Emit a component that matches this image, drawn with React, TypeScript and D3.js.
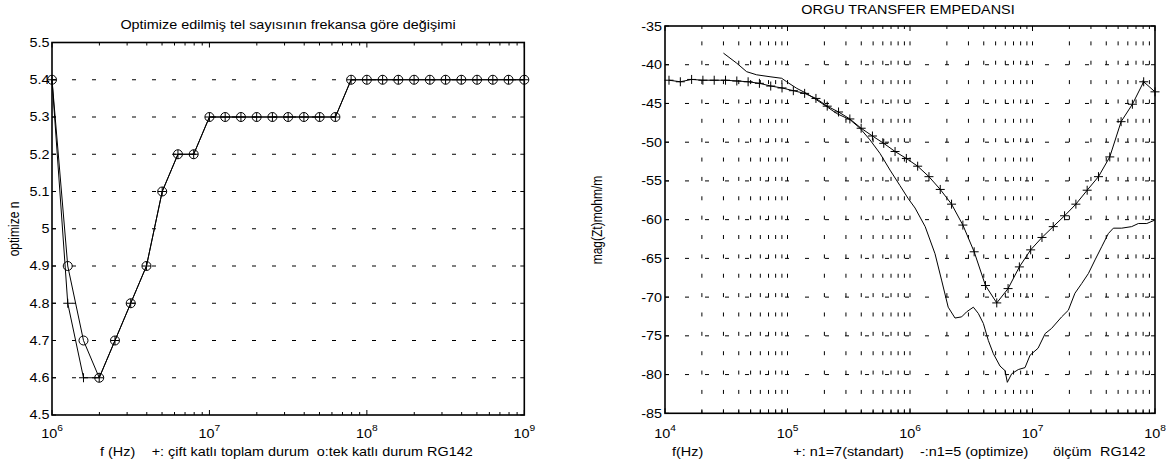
import React from "react";
import * as d3 from "d3";

// ---------- Left chart data ----------
const LEFT_FREQ = [
  1.0e6, 1.259e6, 1.585e6, 1.995e6, 2.512e6, 3.162e6, 3.981e6, 5.012e6, 6.31e6, 7.943e6,
  1.0e7, 1.259e7, 1.585e7, 1.995e7, 2.512e7, 3.162e7, 3.981e7, 5.012e7, 6.31e7, 7.943e7,
  1.0e8, 1.259e8, 1.585e8, 1.995e8, 2.512e8, 3.162e8, 3.981e8, 5.012e8, 6.31e8, 7.943e8,
  1.0e9,
];
// o: tek katlı durum
const LEFT_TEK = [
  5.4, 4.9, 4.7, 4.6, 4.7, 4.8, 4.9, 5.1, 5.2, 5.2,
  5.3, 5.3, 5.3, 5.3, 5.3, 5.3, 5.3, 5.3, 5.3,
  5.4, 5.4, 5.4, 5.4, 5.4, 5.4, 5.4, 5.4, 5.4, 5.4, 5.4, 5.4,
];
// +: çift katlı toplam durum
const LEFT_CIFT = [
  5.4, 4.8, 4.6, 4.6, 4.7, 4.8, 4.9, 5.1, 5.2, 5.2,
  5.3, 5.3, 5.3, 5.3, 5.3, 5.3, 5.3, 5.3, 5.3,
  5.4, 5.4, 5.4, 5.4, 5.4, 5.4, 5.4, 5.4, 5.4, 5.4, 5.4, 5.4,
];
const LEFT_YTICKS = [4.5, 4.6, 4.7, 4.8, 4.9, 5.0, 5.1, 5.2, 5.3, 5.4, 5.5];
const LEFT_YLABELS = ["4.5", "4.6", "4.7", "4.8", "4.9", "5", "5.1", "5.2", "5.3", "5.4", "5.5"];
const LEFT_XMAJOR = [1e6, 1e7, 1e8, 1e9];
const LEFT_XEXP = ["6", "7", "8", "9"];

// ---------- Right chart data ----------
const RIGHT_FREQ_STD = [
  1.078e4, 1.334e4, 1.649e4, 2.039e4, 2.522e4, 3.119e4, 3.857e4, 4.77e4, 5.898e4, 7.295e4,
  9.022e4, 1.116e5, 1.38e5, 1.707e5, 2.11e5, 2.61e5, 3.228e5, 3.992e5, 4.937e5, 6.105e5,
  7.55e5, 9.338e5, 1.155e6, 1.428e6, 1.766e6, 2.184e6, 2.701e6, 3.34e6, 4.13e6, 5.108e6,
  6.317e6, 7.813e6, 9.661e6, 1.195e7, 1.477e7, 1.827e7, 2.26e7, 2.795e7, 3.456e7, 4.274e7,
  5.286e7, 6.538e7, 8.084e7, 1.0e8,
];
// +: n1=7 (standart)
const RIGHT_STD = [
  -42.0, -42.2, -41.9, -42.0, -42.0, -42.0, -42.1, -42.2, -42.4, -42.75,
  -43.0, -43.35, -43.7, -44.35, -45.35, -46.1, -47.0, -48.2, -49.2, -50.15,
  -51.2, -52.1, -53.1, -54.45, -56.1, -58.0, -60.7, -64.15, -68.5, -70.75,
  -68.9, -66.1, -63.9, -62.3, -60.9, -59.5, -58.0, -56.2, -54.45, -51.9,
  -47.35, -45.1, -42.2, -43.5,
];
const RIGHT_FREQ_OPT = [
  3.0e4, 3.85e4, 4.64e4, 5.6e4, 7.2e4, 8.97e4, 9.85e4, 1.19e5, 1.43e5, 1.73e5,
  2.09e5, 2.52e5, 3.24e5, 3.91e5, 4.71e5, 5.69e5, 6.87e5, 8.28e5, 9.69e5, 1.1e6,
  1.33e6, 1.6e6, 1.81e6, 2.05e6, 2.33e6, 2.64e6, 2.9e6, 3.29e6, 3.61e6, 3.97e6,
  4.36e6, 4.79e6, 5.43e6, 5.97e6, 6.23e6, 6.76e6, 7.66e6, 8.69e6, 9.55e6, 1.11e7,
  1.27e7, 1.43e7, 1.73e7, 1.96e7, 2.22e7, 2.52e7, 2.86e7, 3.24e7, 3.67e7, 4.16e7,
  4.57e7, 5.35e7, 6.45e7, 7.31e7, 8.57e7, 1.0e8,
];
// -: n1=5 (optimize)
const RIGHT_OPT = [
  -38.5, -39.8, -40.9, -41.3, -41.55, -41.75, -42.2, -43.05, -43.7, -44.55,
  -45.4, -46.3, -47.1, -48.2, -49.7, -51.45, -53.6, -55.6, -57.3, -58.5,
  -60.9, -64.4, -67.8, -71.3, -72.7, -72.55, -71.9, -71.3, -72.1, -73.4,
  -75.6, -77.3, -78.9, -79.5, -81.0, -79.9, -79.35, -79.1, -77.5, -76.6,
  -74.7, -74.05, -72.55, -71.7, -69.5, -68.25, -66.95, -65.2, -63.5, -61.8,
  -61.1, -61.1, -60.9, -60.5, -60.5, -60.05,
];
const RIGHT_YTICKS = [-85, -80, -75, -70, -65, -60, -55, -50, -45, -40, -35];
const RIGHT_XMAJOR = [1e4, 1e5, 1e6, 1e7, 1e8];
const RIGHT_XEXP = ["4", "5", "6", "7", "8"];

const FONT = "'Liberation Sans', Arial, Helvetica, sans-serif";
const SX = 1.2;

function T(props: {
  x: number;
  y: number;
  anchor?: string;
  size?: number;
  rotate?: boolean;
  children: React.ReactNode;
}) {
  const { x, y, anchor = "start", size = 12, rotate = false, children } = props;
  const transform = rotate
    ? `translate(${x},${y}) rotate(-90) scale(1,${SX})`
    : `translate(${x},${y}) scale(${SX},1)`;
  return (
    <text
      transform={transform}
      textAnchor={anchor as any}
      fontSize={size}
      fontFamily={FONT}
      fill="#000"
      style={{ whiteSpace: "pre" }}
    >
      {children}
    </text>
  );
}

function minorTicks(lo: number, hi: number) {
  const out: { v: number; major: boolean }[] = [];
  for (let e = lo; e <= hi; e++) {
    for (let m = 1; m <= 9; m++) {
      const v = m * Math.pow(10, e);
      if (v > Math.pow(10, hi)) break;
      out.push({ v, major: m === 1 });
    }
  }
  return out;
}

function LeftChart() {
  const x0 = 52, x1 = 524.3, y0 = 42.5, y1 = 415;
  const x = d3.scaleLog().domain([1e6, 1e9]).range([x0, x1]);
  const y = d3.scaleLinear().domain([4.5, 5.5]).range([y1, y0]);
  const line = d3
    .line<number>()
    .x((_, i) => x(LEFT_FREQ[i]))
    .y((d) => y(d));
  const xt = minorTicks(6, 9);
  return (
    <g>
      {/* horizontal grid */}
      {LEFT_YTICKS.slice(1, -1).map((t) => (
        <line
          key={"g" + t}
          x1={x0}
          x2={x1}
          y1={y(t)}
          y2={y(t)}
          stroke="#000"
          strokeWidth={1}
          strokeDasharray="4 16"
        />
      ))}
      {/* ticks */}
      {xt.map((t, i) => {
        const len = t.major ? 5 : 3;
        return (
          <g key={"xt" + i}>
            <line x1={x(t.v)} x2={x(t.v)} y1={y1} y2={y1 - len} stroke="#000" strokeWidth={1} />
            <line x1={x(t.v)} x2={x(t.v)} y1={y0} y2={y0 + len} stroke="#000" strokeWidth={1} />
          </g>
        );
      })}
      {LEFT_YTICKS.map((t) => (
        <g key={"yt" + t}>
          <line x1={x0} x2={x0 + 4} y1={y(t)} y2={y(t)} stroke="#000" strokeWidth={1} />
          <line x1={x1} x2={x1 - 4} y1={y(t)} y2={y(t)} stroke="#000" strokeWidth={1} />
        </g>
      ))}
      {/* series lines */}
      <path d={line(LEFT_CIFT) || ""} fill="none" stroke="#000" strokeWidth={1} />
      <path d={line(LEFT_TEK) || ""} fill="none" stroke="#000" strokeWidth={1} />
      {/* markers */}
      {LEFT_TEK.map((v, i) => (
        <circle key={"o" + i} cx={x(LEFT_FREQ[i])} cy={y(v)} r={4.5} fill="none" stroke="#000" strokeWidth={1} />
      ))}
      {LEFT_CIFT.map((v, i) => {
        const cx = x(LEFT_FREQ[i]);
        const cy = y(v);
        return (
          <path
            key={"p" + i}
            d={`M${cx - 4.5},${cy}H${cx + 4.5}M${cx},${cy - 4.5}V${cy + 4.5}`}
            stroke="#000"
            strokeWidth={1}
          />
        );
      })}
      {/* box */}
      <rect x={x0} y={y0} width={x1 - x0} height={y1 - y0} fill="none" stroke="#000" strokeWidth={1.6} />
      {/* tick labels */}
      {LEFT_YTICKS.map((t, i) => (
        <T key={"yl" + t} x={x0 - 2.5} y={y(t) + 4.3} anchor="end">
          {LEFT_YLABELS[i]}
        </T>
      ))}
      {LEFT_XMAJOR.map((t, i) => (
        <text
          key={"xl" + t}
          transform={`translate(${x(t)},438) scale(${SX},1)`}
          textAnchor="middle"
          fontSize={12}
          fontFamily={FONT}
        >
          <tspan>10</tspan>
          <tspan dy={-7} fontSize={8.5}>
            {LEFT_XEXP[i]}
          </tspan>
        </text>
      ))}
      <T x={288} y={29} anchor="middle">
        Optimize edilmiş tel sayısının frekansa göre değişimi
      </T>
      <T x={19} y={229} anchor="middle" rotate>
        optimize n
      </T>
      <T x={100} y={456}>f (Hz)</T>
      <T x={151.7} y={456}>+: çift katlı toplam durum</T>
      <T x={316.7} y={456}>o:tek katlı durum RG142</T>
    </g>
  );
}

function RightChart() {
  const x0 = 665, x1 = 1155, y0 = 26, y1 = 413.3;
  const x = d3.scaleLog().domain([1e4, 1e8]).range([x0, x1]);
  const y = d3.scaleLinear().domain([-85, -35]).range([y1, y0]);
  const lineStd = d3
    .line<number>()
    .x((_, i) => x(RIGHT_FREQ_STD[i]))
    .y((d) => y(d));
  const lineOpt = d3
    .line<number>()
    .x((_, i) => x(RIGHT_FREQ_OPT[i]))
    .y((d) => y(d));
  const xt = minorTicks(4, 8);
  const p = Math.abs(y(-37.5) - y(-35));
  return (
    <g>
      {/* vertical grid */}
      {xt
        .filter((t) => t.v > 1e4 && t.v < 1e8)
        .map((t, i) => (
          <line
            key={"vg" + i}
            x1={x(t.v)}
            x2={x(t.v)}
            y1={y0}
            y2={y1}
            stroke="#000"
            strokeWidth={1}
            strokeDasharray={`0 ${p - 4} 4 0`}
          />
        ))}
      {/* horizontal grid */}
      {RIGHT_YTICKS.slice(1, -1).map((t) => (
        <line
          key={"hg" + t}
          x1={x0}
          x2={x1}
          y1={y(t)}
          y2={y(t)}
          stroke="#000"
          strokeWidth={1}
          strokeDasharray="4 16"
        />
      ))}
      {/* ticks */}
      {xt.map((t, i) => {
        const len = t.major ? 5 : 3;
        return (
          <g key={"xt" + i}>
            <line x1={x(t.v)} x2={x(t.v)} y1={y1} y2={y1 - len} stroke="#000" strokeWidth={1} />
            <line x1={x(t.v)} x2={x(t.v)} y1={y0} y2={y0 + len} stroke="#000" strokeWidth={1} />
          </g>
        );
      })}
      {RIGHT_YTICKS.map((t) => (
        <g key={"yt" + t}>
          <line x1={x0} x2={x0 + 4} y1={y(t)} y2={y(t)} stroke="#000" strokeWidth={1} />
          <line x1={x1} x2={x1 - 4} y1={y(t)} y2={y(t)} stroke="#000" strokeWidth={1} />
        </g>
      ))}
      {/* series */}
      <path d={lineOpt(RIGHT_OPT) || ""} fill="none" stroke="#000" strokeWidth={1} />
      <path d={lineStd(RIGHT_STD) || ""} fill="none" stroke="#000" strokeWidth={1} />
      {RIGHT_STD.map((v, i) => {
        const cx = x(RIGHT_FREQ_STD[i]);
        const cy = y(v);
        return (
          <path
            key={"p" + i}
            d={`M${cx - 4.5},${cy}H${cx + 4.5}M${cx},${cy - 4.5}V${cy + 4.5}`}
            stroke="#000"
            strokeWidth={1}
          />
        );
      })}
      <rect x={x0} y={y0} width={x1 - x0} height={y1 - y0} fill="none" stroke="#000" strokeWidth={1.6} />
      {RIGHT_YTICKS.map((t) => (
        <T key={"yl" + t} x={x0 - 3} y={y(t) + 4.5} anchor="end">
          {String(t)}
        </T>
      ))}
      {RIGHT_XMAJOR.map((t, i) => (
        <text
          key={"xl" + t}
          transform={`translate(${x(t)},438) scale(${SX},1)`}
          textAnchor="middle"
          fontSize={12}
          fontFamily={FONT}
        >
          <tspan>10</tspan>
          <tspan dy={-7} fontSize={8.5}>
            {RIGHT_XEXP[i]}
          </tspan>
        </text>
      ))}
      <T x={908} y={13.5} anchor="middle">
        ORGU TRANSFER EMPEDANSI
      </T>
      <T x={602} y={220} anchor="middle" rotate>
        mag(Zt)mohm/m
      </T>
      <T x={672} y={456}>f(Hz)</T>
      <T x={793.3} y={456}>+: n1=7(standart)</T>
      <T x={920} y={456}>-:n1=5 (optimize)</T>
      <T x={1053} y={456}>ölçüm</T>
      <T x={1100} y={456}>RG142</T>
    </g>
  );
}

export default function App() {
  return (
    <svg
      width={1168}
      height={466}
      viewBox="0 0 1168 466"
      style={{ position: "absolute", left: 0, top: 0, background: "#fff", display: "block" }}
    >
      <rect x={0} y={0} width={1168} height={466} fill="#fff" />
      <LeftChart />
      <RightChart />
    </svg>
  );
}
